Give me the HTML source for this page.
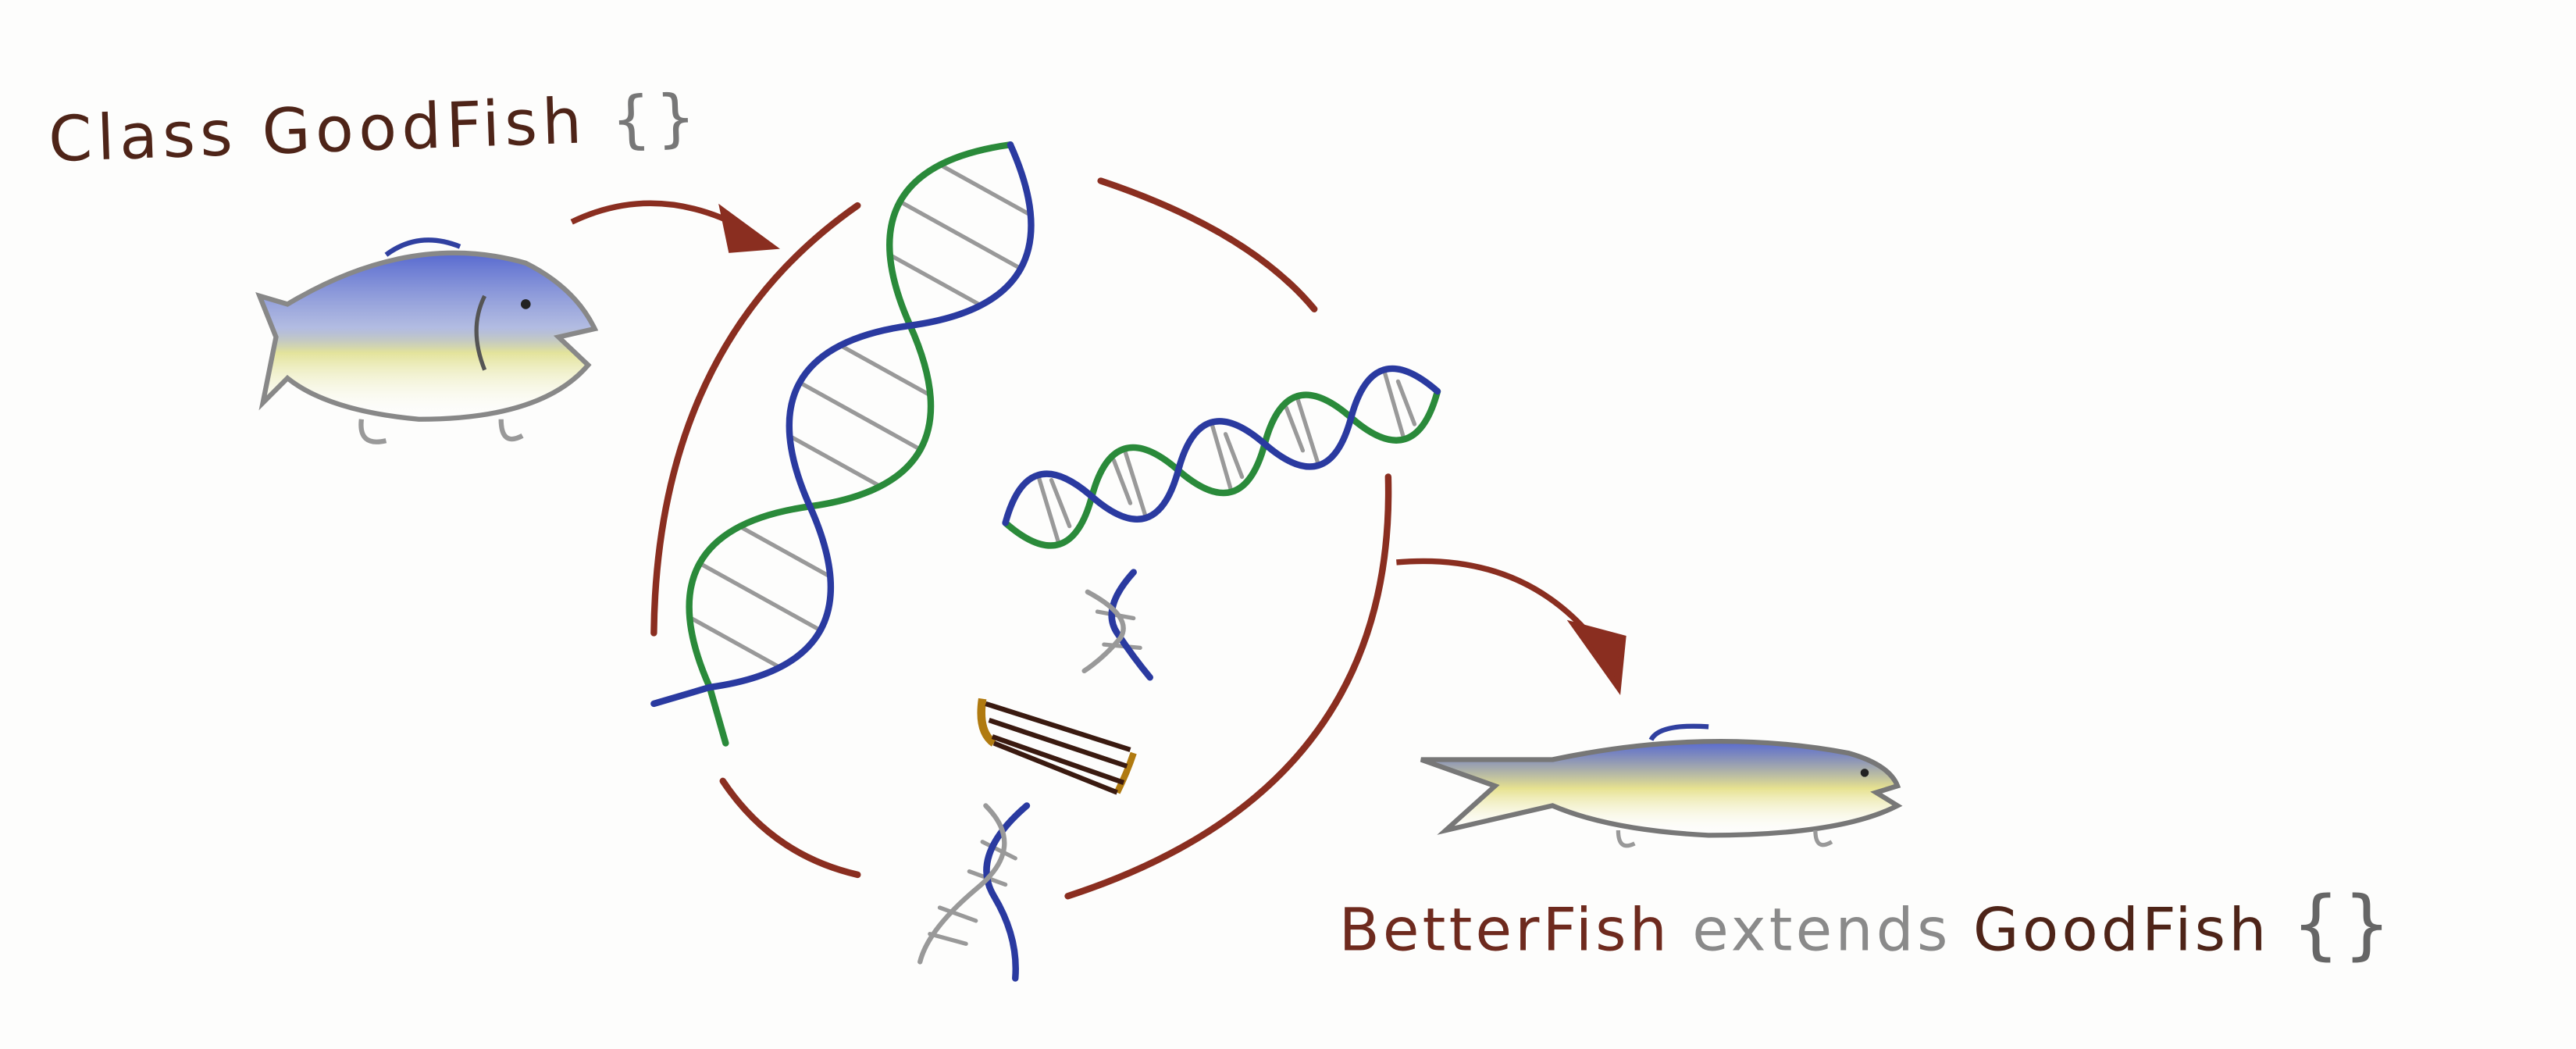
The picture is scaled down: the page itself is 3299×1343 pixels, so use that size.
<!DOCTYPE html>
<html><head><meta charset="utf-8"><style>
html,body{margin:0;padding:0;background:#fdfdfc;}
svg{display:block;}
.hand{font-family:"DejaVu Sans","Liberation Sans",sans-serif;}
</style></head><body>
<svg id="s" width="3299" height="1343" viewBox="0 0 1568 638" preserveAspectRatio="none" xmlns="http://www.w3.org/2000/svg">
<defs>
<linearGradient id="fishg" x1="0" y1="0" x2="0" y2="1">
<stop offset="0" stop-color="#3a4fc8" stop-opacity="0.85"/>
<stop offset="0.45" stop-color="#8090d0" stop-opacity="0.6"/>
<stop offset="0.6" stop-color="#e0e090" stop-opacity="0.9"/>
<stop offset="1" stop-color="#ffffff" stop-opacity="0"/>
</linearGradient>
<linearGradient id="fishg2" x1="0" y1="0" x2="0" y2="1">
<stop offset="0" stop-color="#3a4fc8" stop-opacity="0.85"/>
<stop offset="0.5" stop-color="#e5e08a" stop-opacity="0.95"/>
<stop offset="1" stop-color="#ffffff" stop-opacity="0"/>
</linearGradient>
</defs>
<rect width="1568" height="638" fill="#fdfdfc"/>

<text class="hand" x="30" y="98" font-size="38" fill="#4e2418" letter-spacing="3" transform="rotate(-2 30 98)">Class GoodFish <tspan fill="#777">{}</tspan></text>

<g>
<path d="M175 185 Q250 140 320 160 Q350 175 362 200 L340 205 L358 222 Q330 255 255 255 Q200 250 175 230 L160 245 L168 205 L158 180 Z" fill="url(#fishg)"/>
<path d="M175 185 Q250 140 320 160 Q350 175 362 200 L340 205 L358 222 Q330 255 255 255 Q200 250 175 230 L160 245 L168 205 L158 180 Z" fill="none" stroke="#888" stroke-width="3"/>
<path d="M235 155 Q255 140 280 150" fill="none" stroke="#3040a0" stroke-width="3"/>
<path d="M220 255 Q218 272 235 268 M305 255 Q305 272 318 265" fill="none" stroke="#999" stroke-width="3"/>
<path d="M295 180 Q285 200 295 225" fill="none" stroke="#555" stroke-width="2.5"/>
<circle cx="320" cy="185" r="3" fill="#222"/>
</g>

<g fill="none" stroke="#8a2e20" stroke-width="3.5">
<path d="M348 135 Q400 110 455 140"/>
<path d="M440 128 L470 150 L445 152 Z" fill="#8a2e20"/>
</g>

<g fill="none" stroke="#8a2e20" stroke-width="4" stroke-linecap="round">
<path d="M522 125 Q400 210 398 385"/>
<path d="M670 110 Q760 140 800 188"/>
<path d="M845 290 Q850 480 650 545"/>
<path d="M440 475 Q470 520 522 532"/>
</g>

<g fill="none" stroke-linecap="round">
<g stroke="#999" stroke-width="2.5">
<line x1="573.8" y1="101.1" x2="625.8" y2="129.9"/>
<line x1="547.8" y1="122.6" x2="621.4" y2="163.4"/>
<line x1="543.4" y1="156" x2="595.4" y2="184.8"/>
<line x1="565" y1="239.7" x2="513" y2="210.9"/>
<line x1="560.3" y1="273.4" x2="486.7" y2="232.6"/>
<line x1="534.3" y1="294.9" x2="482.3" y2="266.1"/>
<line x1="451.9" y1="321.1" x2="503.9" y2="349.9"/>
<line x1="425.9" y1="342.6" x2="499.5" y2="383.4"/>
<line x1="421.3" y1="376.3" x2="473.3" y2="405.1"/>
</g>
<path d="M615 88 Q511.1 102.3 554 198 Q597 293.7 493 308 Q389.2 322.3 432 418 L441.7 452" stroke="#2a8a3a" stroke-width="4"/>
<path d="M615 88 Q658.1 183.7 554 198 Q450 212.3 493 308 Q536.2 403.7 432 418 L398 428" stroke="#2a3aa0" stroke-width="4"/>
</g>

<g fill="none" stroke-linecap="round">
<g stroke="#999" stroke-width="2.5">
<line x1="644" y1="329" x2="632.5" y2="291"/>
<line x1="651" y1="320" x2="640" y2="292"/>
<line x1="685" y1="275" x2="697" y2="313"/>
<line x1="678" y1="280" x2="688" y2="306"/>
<line x1="749" y1="297" x2="738" y2="259"/>
<line x1="756" y1="290" x2="746" y2="264"/>
<line x1="790" y1="243" x2="802" y2="281"/>
<line x1="783" y1="248" x2="793" y2="274"/>
<line x1="854" y1="265" x2="843" y2="227"/>
<line x1="861" y1="258" x2="851" y2="232"/>
</g>
<path d="M612 318 Q651.1 352.1 664.6 302 Q678.1 251.9 717.2 286 Q756.3 320.1 769.8 270 Q783.3 219.9 822.4 254 Q861.5 288.1 875 238" stroke="#2a8a3a" stroke-width="4"/>
<path d="M612 318 Q625.5 267.9 664.6 302 Q703.7 336.1 717.2 286 Q730.7 235.9 769.8 270 Q808.9 304.1 822.4 254 Q835.9 203.9 875 238" stroke="#2a3aa0" stroke-width="4"/>
</g>

<g fill="none" stroke-linecap="round">
<line x1="668" y1="372" x2="690" y2="376" stroke="#999" stroke-width="2.5"/>
<line x1="672" y1="392" x2="694" y2="394" stroke="#999" stroke-width="2.5"/>
<path d="M690 348 Q670 370 680 385 Q690 400 700 412" stroke="#2a3aa0" stroke-width="4"/>
<path d="M662 360 Q690 375 682 388 Q672 400 660 408" stroke="#999" stroke-width="3"/>
</g>

<g stroke="#3a1a10" stroke-width="3" fill="none">
<path d="M598 425 Q595 445 605 452" stroke="#b07a10" stroke-width="5"/>
<path d="M690 458 Q686 470 680 482" stroke="#b07a10" stroke-width="4"/>
<line x1="600" y1="428" x2="688" y2="456"/>
<line x1="602" y1="438" x2="686" y2="466"/>
<line x1="604" y1="448" x2="684" y2="476"/>
<line x1="605" y1="452" x2="680" y2="482"/>
</g>

<g fill="none" stroke-linecap="round">
<line x1="598" y1="512" x2="618" y2="522" stroke="#999" stroke-width="2.5"/>
<line x1="590" y1="530" x2="612" y2="538" stroke="#999" stroke-width="2.5"/>
<line x1="572" y1="552" x2="594" y2="560" stroke="#999" stroke-width="2.5"/>
<line x1="566" y1="568" x2="588" y2="574" stroke="#999" stroke-width="2.5"/>
<path d="M625 490 Q590 520 605 545 Q620 570 618 595" stroke="#2a3aa0" stroke-width="4"/>
<path d="M600 490 Q625 515 595 540 Q565 565 560 585" stroke="#999" stroke-width="3"/>
</g>

<g fill="none" stroke="#8a2e20" stroke-width="3.5">
<path d="M850 342 Q930 335 975 395"/>
<path d="M958 380 L988 388 L985 418 Z" fill="#8a2e20"/>
</g>

<g>
<path d="M945 462 Q1040 442 1125 458 Q1150 465 1155 478 L1142 482 L1155 490 Q1120 508 1040 508 Q980 505 945 490 L880 505 L910 478 L865 462 Z" fill="url(#fishg2)"/>
<path d="M945 462 Q1040 442 1125 458 Q1150 465 1155 478 L1142 482 L1155 490 Q1120 508 1040 508 Q980 505 945 490 L880 505 L910 478 L865 462 Z" fill="none" stroke="#777" stroke-width="3"/>
<path d="M1005 450 Q1010 440 1040 442" fill="none" stroke="#3040a0" stroke-width="3"/>
<path d="M985 505 Q985 518 995 513 M1105 505 Q1105 518 1115 512" fill="none" stroke="#999" stroke-width="2.5"/>
<circle cx="1135" cy="470" r="2.5" fill="#222"/>
</g>

<text class="hand" x="815" y="578" font-size="36" letter-spacing="2" fill="#6e2a1e">BetterFish <tspan fill="#8a8a8a">extends</tspan> <tspan fill="#4e2418">GoodFish</tspan> <tspan fill="#666" font-size="46">{}</tspan></text>
</svg>
</body></html>
